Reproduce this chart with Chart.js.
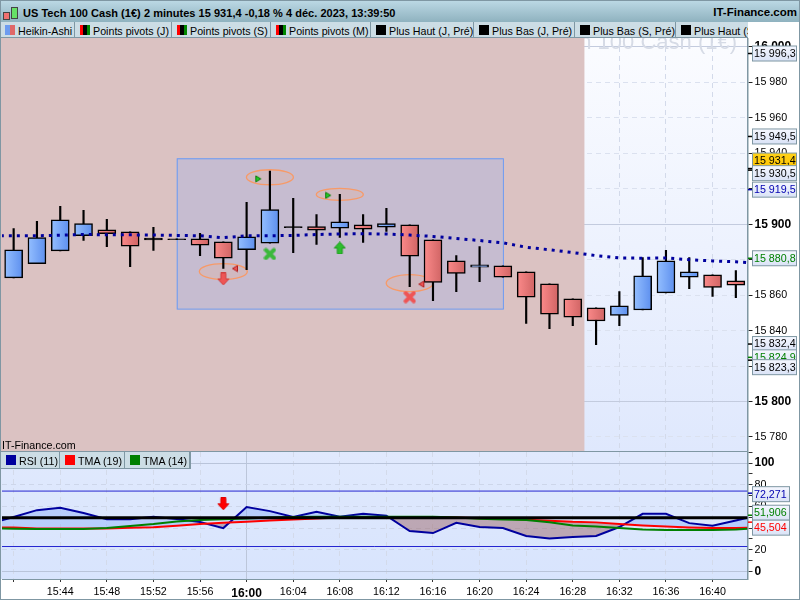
<!DOCTYPE html>
<html>
<head>
<meta charset="utf-8">
<title>US Tech 100 Cash</title>
<script src="https://cdn.jsdelivr.net/npm/chart.js@4"></script>
<style>
html, body { margin: 0; padding: 0; background: #fff; overflow: hidden; }
body { width: 800px; height: 600px; position: relative; font-family: "Liberation Sans", Arial, sans-serif; color: #000; }
canvas { position: absolute; left: 0; display: block; }
#priceChart { top: 38px; }
#rsiChart { top: 452px; }
#header { position: absolute; left: 0; top: 0; width: 800px; height: 22px; box-sizing: border-box; border-top: 1px solid #7f97a3;
    background: linear-gradient(#bbd8e4, #8fb2bf); font-weight: bold; font-size: 11px; }
#title { position: absolute; left: 23px; top: 6px; white-space: nowrap; letter-spacing: .03px; }
#site { position: absolute; right: 3px; top: 5px; font-size: 11.5px; }
.ico { position: absolute; border: 1px solid #444; }
.bar { position: absolute; display: flex; background: #ccdde5; overflow: hidden; font-size: 10.7px; white-space: nowrap; box-sizing: border-box; }
#tabs { left: 0; top: 22px; width: 748px; height: 16px; border-bottom: 1px solid #7f97a3; }
#rsiTabs { left: 1px; top: 452px; width: 190px; height: 17px; border: 1px solid #7f97a3; border-left: 0; border-top: 0; z-index: 3; }
.tab { position: relative; flex: none; height: 100%; box-sizing: border-box; border-right: 1px solid #7f97a3; }
.tab i { position: absolute; left: 5px; top: 3px; width: 10px; height: 10px; }
.tab span { position: absolute; left: 18px; top: 3px; }
#credit { position: absolute; left: 2px; top: 439px; font-size: 10.7px; z-index: 3; }
#frame { position: absolute; left: 0; top: 0; width: 800px; height: 600px; box-sizing: border-box; border: 1px solid #7f97a3; border-top: 0; z-index: 4; pointer-events: none; }
#split { position: absolute; left: 0; top: 451px; width: 748px; height: 1px; background: #7f97a3; z-index: 2; }
</style>
</head>
<body>
<div id="header">
    <div class="ico" style="left:3px;top:11px;width:5px;height:6px;background:#f07070"></div>
    <div class="ico" style="left:11px;top:6px;width:5px;height:10px;background:#66e066"></div>
    <div id="title">US Tech 100 Cash (1€) 2 minutes 15 931,4 -0,18 % 4 déc. 2023, 13:39:50</div>
    <div id="site">IT-Finance.com</div>
</div>
<div id="tabs" class="bar"></div>
<canvas id="priceChart" width="800" height="414"></canvas>
<div id="split"></div>
<div id="credit">IT-Finance.com</div>
<div id="rsiTabs" class="bar"></div>
<canvas id="rsiChart" width="800" height="148"></canvas>
<div id="frame"></div>
<script>
const times = ['15:40','15:42','15:44','15:46','15:48','15:50','15:52','15:54','15:56','15:58','16:00','16:02','16:04','16:06','16:08','16:10',
    '16:12','16:14','16:16','16:18','16:20','16:22','16:24','16:26','16:28','16:30','16:32','16:34','16:36','16:38','16:40','16:42'];

const opens = [15869.7,15877.7,15885,15893.5,15896.9,15895.7,15892.2,15891.8,15891.8,15890.1,15885.6,15889.3,15898.6,15898.6,15897.8,15899.7,
    15898.3,15899.7,15891.2,15879.3,15875.7,15876.5,15873.1,15866.3,15857.9,15852.8,15848.6,15851.6,15861.3,15870.1,15871.4,15868];
const closes = [15885.6,15892.4,15902.5,15900.3,15894.6,15887.6,15891.1,15891.3,15888.2,15880.8,15892.9,15908.2,15898,15896.7,15901.4,15897.2,
    15900.3,15882,15867.2,15872.3,15877.1,15870.1,15858.8,15849.2,15847.5,15845.4,15853.9,15870.9,15879.3,15873.1,15864.4,15865.6];
const highs = [15897.6,15901.6,15910.1,15907.8,15902.7,15895.7,15898.2,15891.8,15894.8,15890.1,15912.3,15930,15914.6,15905.5,15916.8,15905.5,
    15908.9,15899.7,15891.2,15882.3,15887.4,15876.5,15873.1,15866.3,15857.9,15852.8,15862,15881.2,15885.2,15881.2,15871.4,15873.9];
const lows = [15869.7,15877.7,15885,15890.8,15887.4,15876.1,15885.2,15891.3,15882.3,15875,15874.4,15889.3,15884,15888.6,15892.5,15889.7,
    15895.9,15864.8,15856.9,15862,15867.6,15870.1,15844.1,15841.1,15842.8,15832,15842.8,15851.6,15861.3,15863.7,15859.2,15858.6];

// the lines run past the first and last candle up to the pane edges
const lineSlots = [-0.55,0,1,2,3,4,5,6,7,8,9,10,11,12,13,14,15,16,17,18,19,20,21,22,23,24,25,26,27,28,29,30,31,31.5];
const averageValues = [15893.5,15893.5,15893.5,15893.8,15894.2,15894,15894,15893.9,15893.7,15893.5,15892.4,15893.5,15893.5,15893.7,15894.2,15894.5,15894.6,
    15894.5,15893.9,15893.1,15892,15890.8,15889.5,15887,15885.6,15884,15882.3,15881,15880.8,15881,15880,15879.3,15878.8,15878.4];
const rsiValues = [47,50.2,56.6,58.8,53.9,48.3,48.3,50.5,48.3,45.6,40,59.4,55.7,50.2,55.1,50.5,53.2,51.4,37.3,35.4,44.9,41,40,32.7,30.4,31.7,32.7,41,53.2,53.2,44.6,42.2,47,49.5];
const tma19Values = [40.6,40.6,39.7,39.7,39.7,39.7,40.3,40.9,42.2,43.7,44.9,45.8,47.1,48,48.9,49.8,50.2,50.2,50.2,50.2,49.8,49.2,48.9,47.7,46.8,45.8,45.3,43.7,42.5,41.5,40.6,40,40,40.3];
const tma14Values = [39.7,39.4,39.1,39.1,39.1,40,41.9,43.7,46.2,47.4,48.3,48.9,49.8,50.2,50.5,50.5,50.5,50.5,50.5,50.5,49.8,48.6,48,47.4,45.5,42.5,41.5,40,38.8,38.2,38.2,38.2,38.8,39.4];
const rsiLevels = [74.2, 49.5, 23];

const tabNames = ['Heikin-Ashi','Points pivots (J)','Points pivots (S)','Points pivots (M)','Plus Haut (J, Pré)','Plus Bas (J, Pré)','Plus Bas (S, Pré)','Plus Haut (S, Pré)'];
const rsiTabNames = ['RSI (11)','TMA (19)','TMA (14)'];

const priceLabels = [15996.3,15949.5,15931.4,15930.5,15919.5,15880.8,15832.4,15824.9,15823.3];
const rsiLabels = [72.271,51.906,45.504];

const selectionSlots = [7, 21];
const selectionPrices = [15937.2, 15852.4];
const pivotSlots = [11, 14, 9, 17];
const pivotPrices = [15926.5, 15916.8, 15873.3, 15866.8];
const buySlots = [10.5, 13.5];
const buyPrices = [15925.6, 15916.3];
const sellSlots = [9.5, 17.5];
const sellPrices = [15875, 15866.2];

// styles for the above, kept apart from the values
const tabWidths = [75, 97, 99, 100, 103, 101, 101, 80];
const tabSwatches = ['linear-gradient(90deg,#6d9cf0 50%,#e06868 50%)', 'pivot', 'pivot', 'pivot', '#000', '#000', '#000', '#000'];
const rsiTabWidths = [59, 65, 65];
const rsiTabSwatches = ['#00009e', '#ff0000', '#008000'];
const priceBadgeNudge = [0, 0, -8, 3, 0, 0, 0, 0, 7];
const priceBadgeColors = ['#000','#000','#000','#000','#0000b0','#008000','#000','#008000','#000'];
const rsiBadgeNudge = [1, -2.5, 5.5];
const rsiBadgeColors = ['#0000b0','#008000','#ff0000'];
const pivotRadii = [[23.5, 7.5], [23.5, 6], [24, 8], [23.5, 8.5]];

function fillTabs(id, names, widths, swatches) {
    const bar = document.getElementById(id);
    names.forEach(function (name, i) {
        const tab = document.createElement('div');
        tab.className = 'tab';
        tab.style.width = widths[i] + 'px';
        const swatch = document.createElement('i');
        swatch.style.background = swatches[i] === 'pivot'
            ? 'linear-gradient(90deg,#f00 33%,#000 33%,#000 66%,#080 66%)' : swatches[i];
        const label = document.createElement('span');
        label.textContent = name;
        tab.appendChild(swatch);
        tab.appendChild(label);
        bar.appendChild(tab);
    });
}
fillTabs('tabs', tabNames, tabWidths, tabSwatches);
fillTabs('rsiTabs', rsiTabNames, rsiTabWidths, rsiTabSwatches);

function icon(size, draw) {
    const c = document.createElement('canvas');
    c.width = size;
    c.height = size;
    draw(c.getContext('2d'));
    return c;
}
function polyIcon(size, pts, fill, stroke) {
    return icon(size, function (g) {
        g.beginPath();
        pts.forEach(function (p, i) { i ? g.lineTo(p[0], p[1]) : g.moveTo(p[0], p[1]); });
        g.closePath();
        g.fillStyle = fill;
        g.fill();
        g.strokeStyle = stroke;
        g.lineWidth = 1;
        g.stroke();
    });
}
function crossIcon(color) {
    return icon(13, function (g) {
        g.strokeStyle = color;
        g.lineWidth = 4;
        g.lineCap = 'round';
        g.beginPath();
        g.moveTo(2.5, 2.5); g.lineTo(10.5, 10.5);
        g.moveTo(10.5, 2.5); g.lineTo(2.5, 10.5);
        g.stroke();
    });
}
const upArrow = polyIcon(13, [[6.5,0.5],[12,6.5],[9,6.5],[9,12.5],[4,12.5],[4,6.5],[1,6.5]], '#2ebd2e', '#1c9c1c');
const downArrow = polyIcon(13, [[4,0.5],[9,0.5],[9,6.5],[12,6.5],[6.5,12.5],[1,6.5],[4,6.5]], '#ee5555', '#d04040');
const buyMark = polyIcon(8, [[1.5,1],[6.5,4],[1.5,7]], '#22cc22', '#0a7a0a');
const sellMark = polyIcon(8, [[6.5,1],[1.5,4],[6.5,7]], '#ee5555', '#b02020');

function fmtPrice(v) {
    const s = v.toFixed(1).replace('.', ',');
    return s.slice(0, 2) + ' ' + s.slice(2);
}
function fmtTick(v) {
    const s = String(Math.round(v));
    return s.slice(0, 2) + ' ' + s.slice(2);
}

// value boxes on the right axis
function drawBadges(chart, values, nudges, colors, width, format) {
    const g = chart.ctx;
    const y = chart.scales.y;
    g.save();
    values.forEach(function (v, i) {
        const py = y.getPixelForValue(v);
        const cy = py + nudges[i];
        const yellow = format === fmtPrice && v === 15931.4;
        g.strokeStyle = colors[i];
        g.lineWidth = 1.5;
        g.beginPath();
        g.moveTo(748, py);
        g.lineTo(752, py);
        g.stroke();
        const grad = g.createLinearGradient(0, cy - 8, 0, cy + 8);
        grad.addColorStop(0, yellow ? '#ffd21a' : '#f6f8ff');
        grad.addColorStop(1, yellow ? '#ffc400' : '#d9e2f6');
        g.fillStyle = grad;
        g.fillRect(752.5, cy - 7.5, width, 15);
        g.strokeStyle = '#7f97a3';
        g.lineWidth = 1;
        g.strokeRect(752.5, cy - 7.5, width, 15);
        g.fillStyle = colors[i];
        g.font = '10.7px "Liberation Sans"';
        g.textAlign = 'left';
        g.textBaseline = 'middle';
        g.fillText(format(v), 754, cy + 0.5);
    });
    g.restore();
}

const priceBackdrop = {
    id: 'priceBackdrop',
    beforeDraw: function (chart) {
        const a = chart.chartArea;
        const g = chart.ctx;
        const grad = g.createLinearGradient(0, a.top, 0, a.bottom);
        grad.addColorStop(0, '#fbfcff');
        grad.addColorStop(1, '#dfe8fd');
        g.fillStyle = grad;
        g.fillRect(a.left, a.top, a.right - a.left, a.bottom - a.top);
    },
    beforeDatasetsDraw: function (chart) {
        const a = chart.chartArea;
        const g = chart.ctx;
        const x = chart.scales.x;
        const y = chart.scales.y;
        g.save();
        // watermark sits behind the pink session band
        g.font = '22px "Liberation Sans"';
        g.fillStyle = '#d6dbe6';
        g.textAlign = 'right';
        g.textBaseline = 'alphabetic';
        g.fillText('US Tech 100 Cash (1€)', 737, 11);
        g.fillStyle = '#dbc2c2';
        g.fillRect(0, a.top, x.getPixelForValue(24.5), a.bottom - a.top);

        const sx = x.getPixelForValue(selectionSlots[0]);
        const ex = x.getPixelForValue(selectionSlots[1]);
        const sy = y.getPixelForValue(selectionPrices[0]);
        const ey = y.getPixelForValue(selectionPrices[1]);
        g.fillStyle = 'rgba(170,182,228,0.42)';
        g.fillRect(sx, sy, ex - sx, ey - sy);
        g.strokeStyle = '#6a9af5';
        g.lineWidth = 1;
        g.strokeRect(sx + 0.5, sy + 0.5, ex - sx, ey - sy);

        pivotSlots.forEach(function (slot, i) {
            g.beginPath();
            g.ellipse(x.getPixelForValue(slot), y.getPixelForValue(pivotPrices[i]), pivotRadii[i][0], pivotRadii[i][1], 0, 0, Math.PI * 2);
            g.fillStyle = 'rgba(255,170,120,0.18)';
            g.fill();
            g.strokeStyle = '#f79a68';
            g.lineWidth = 1.3;
            g.stroke();
        });
        g.restore();
    },
    afterDraw: function (chart) {
        drawBadges(chart, priceLabels, priceBadgeNudge, priceBadgeColors, 44, fmtPrice);
    }
};

const rsiBackdrop = {
    id: 'rsiBackdrop',
    beforeDraw: function (chart) {
        const a = chart.chartArea;
        const g = chart.ctx;
        const grad = g.createLinearGradient(0, a.top, 0, a.bottom);
        grad.addColorStop(0, '#e0e9fd');
        grad.addColorStop(1, '#d8e4fd');
        g.fillStyle = grad;
        g.fillRect(a.left - 2, a.top, a.right - a.left + 2, a.bottom - a.top);
    },
    afterDraw: function (chart) {
        drawBadges(chart, rsiLabels, rsiBadgeNudge, rsiBadgeColors, 37, function (v) { return v.toFixed(3).replace('.', ','); });
    }
};

function bodyFill(ctx) {
    const i = ctx.dataIndex;
    const chart = ctx.chart;
    if (i === undefined) return '#888';
    if (Math.abs(opens[i] - closes[i]) < 1.2) return '#000';
    const cx = chart.scales.x.getPixelForValue(i);
    if (!isFinite(cx)) return '#888';
    const grad = chart.ctx.createLinearGradient(cx - 9, 0, cx + 9, 0);
    if (closes[i] > opens[i]) {
        grad.addColorStop(0, '#94bfff');
        grad.addColorStop(1, '#5d8fee');
    } else {
        grad.addColorStop(0, '#fb8a8a');
        grad.addColorStop(1, '#d06464');
    }
    return grad;
}

function xpoints(slots, values) {
    return slots.map(function (s, i) { return { x: s, y: values[i] }; });
}
function markerSet(slots, values, style) {
    return { type: 'line', showLine: false, data: xpoints(slots, values), pointStyle: style, pointRadius: 6, order: 0 };
}

function evenTicks(axis) {
    axis.ticks = times.map(function (t, i) { return { value: i }; }).filter(function (t) { return t.value % 2 === 0; });
}
function gridColor(ctx) {
    return ctx.tick && ctx.tick.value === 10 ? '#bcc6da' : '#d3daea';
}
function gridDash(ctx) {
    return ctx.tick && ctx.tick.value === 10 ? [] : [5, 4];
}
// stops tick labels from shrinking the plot area
function noOverflow(axis) {
    axis.paddingLeft = 0;
    axis.paddingRight = 0;
    axis.paddingTop = 0;
    axis.paddingBottom = 0;
}

new Chart(document.getElementById('priceChart'), {
    type: 'bar',
    data: {
        datasets: [
            markerSet(buySlots, buyPrices, buyMark),
            markerSet(sellSlots, sellPrices, sellMark),
            markerSet([11], [15883.2], crossIcon('#3cb83c')),
            markerSet([17], [15858.9], crossIcon('#ee5555')),
            markerSet([9], [15869.1], downArrow),
            markerSet([14], [15886.6], upArrow),
            {
                type: 'line',
                data: xpoints(lineSlots, averageValues),
                borderColor: '#00009e',
                borderWidth: 3,
                borderDash: [3, 5],
                pointRadius: 0,
                order: 1
            },
            {
                data: times.map(function (t, i) { return { x: i, y: [opens[i], closes[i]] }; }),
                backgroundColor: bodyFill,
                borderColor: '#000',
                borderWidth: 1.5,
                borderSkipped: false,
                barThickness: 18,
                grouped: false,
                order: 2
            },
            {
                data: times.map(function (t, i) { return { x: i, y: [lows[i], highs[i]] }; }),
                backgroundColor: '#000',
                barThickness: 1.5,
                grouped: false,
                order: 3
            }
        ]
    },
    options: {
        responsive: false,
        animation: false,
        events: [],
        layout: { autoPadding: false, padding: { left: 2, top: 0, bottom: 0, right: 0 } },
        plugins: { legend: { display: false }, tooltip: { enabled: false } },
        scales: {
            x: {
                type: 'linear',
                offset: false,
                min: -0.5,
                max: 31.5,
                afterBuildTicks: evenTicks,
                afterFit: function (axis) { axis.height = 0; noOverflow(axis); },
                ticks: { display: false, autoSkip: false },
                grid: { offset: false, color: gridColor, drawTicks: false },
                border: { display: false, dash: gridDash }
            },
            y: {
                position: 'right',
                min: 15771.5,
                max: 16005.05,
                afterFit: function (axis) { axis.width = 52.5; noOverflow(axis); },
                ticks: {
                    stepSize: 20,
                    includeBounds: false,
                    autoSkip: false,
                    padding: 2,
                    color: '#000',
                    callback: function (v) { return fmtTick(v); },
                    font: function (ctx) {
                        const major = ctx.tick && ctx.tick.value % 100 === 0;
                        return { family: '"Liberation Sans"', size: major ? 12 : 10.7, weight: major ? 'bold' : 'normal' };
                    }
                },
                grid: {
                    tickLength: 5,
                    tickColor: '#222',
                    color: function (ctx) { return ctx.tick && ctx.tick.value % 100 === 0 ? '#c3cbde' : '#dbe1ef'; }
                },
                border: {
                    color: '#7f97a3',
                    width: 1.5,
                    dash: function (ctx) { return ctx.tick && ctx.tick.value % 100 === 0 ? [] : [5, 4]; }
                }
            }
        }
    },
    plugins: [priceBackdrop]
});

new Chart(document.getElementById('rsiChart'), {
    type: 'line',
    data: {
        datasets: [
            {
                data: xpoints(lineSlots, rsiValues),
                borderColor: '#00009e',
                borderWidth: 2,
                pointRadius: 0,
                fill: { target: 1, above: 'rgba(130,170,250,0.4)', below: 'rgba(150,90,90,0.45)' },
                order: 3
            },
            {
                data: xpoints(lineSlots, tma19Values),
                borderColor: '#ff0000',
                borderWidth: 2,
                pointRadius: 0,
                order: 2
            },
            {
                data: xpoints(lineSlots, tma14Values),
                borderColor: '#008000',
                borderWidth: 2,
                pointRadius: 0,
                order: 1
            },
            {
                data: xpoints([-0.55, 31.5], [rsiLevels[0], rsiLevels[0]]),
                borderColor: '#2525d0',
                borderWidth: 1,
                pointRadius: 0,
                order: 4
            },
            {
                data: xpoints([-0.55, 31.5], [rsiLevels[2], rsiLevels[2]]),
                borderColor: '#2525d0',
                borderWidth: 1,
                pointRadius: 0,
                order: 4
            },
            {
                data: xpoints([-0.55, 31.5], [rsiLevels[1], rsiLevels[1]]),
                borderColor: '#000',
                borderWidth: 3,
                pointRadius: 0,
                order: 0
            },
            {
                data: xpoints([9], [62.5]),
                showLine: false,
                pointStyle: polyIcon(13, [[4,0.5],[9,0.5],[9,6.5],[12,6.5],[6.5,12.5],[1,6.5],[4,6.5]], '#ff0000', '#e00000'),
                order: 0
            }
        ]
    },
    options: {
        responsive: false,
        animation: false,
        events: [],
        layout: { autoPadding: false, padding: { left: 2, top: 0, bottom: 0, right: 0 } },
        plugins: { legend: { display: false }, tooltip: { enabled: false } },
        scales: {
            x: {
                type: 'linear',
                min: -0.5,
                max: 31.5,
                afterBuildTicks: evenTicks,
                afterFit: function (axis) { axis.height = 21; noOverflow(axis); },
                ticks: {
                    autoSkip: false,
                    maxRotation: 0,
                    padding: 4,
                    color: '#000',
                    callback: function (v) { return v === 0 ? '' : times[v]; },
                    font: function (ctx) {
                        const major = ctx.tick && ctx.tick.value === 10;
                        return { family: '"Liberation Sans"', size: major ? 12 : 10.7, weight: major ? 'bold' : 'normal' };
                    }
                },
                grid: { color: gridColor, tickLength: 3, tickColor: '#333' },
                border: { color: '#7f97a3', width: 1, dash: gridDash }
            },
            y: {
                position: 'right',
                min: -7,
                max: 110.3,
                afterFit: function (axis) { axis.width = 52.5; noOverflow(axis); },
                ticks: {
                    stepSize: 10,
                    includeBounds: false,
                    autoSkip: false,
                    padding: 2,
                    color: '#000',
                    callback: function (v) { return v % 20 === 0 ? String(v) : ''; },
                    font: function (ctx) {
                        const major = ctx.tick && (ctx.tick.value === 0 || ctx.tick.value === 100);
                        return { family: '"Liberation Sans"', size: major ? 12 : 10.7, weight: major ? 'bold' : 'normal' };
                    }
                },
                grid: {
                    tickLength: 5,
                    tickColor: '#333',
                    color: function (ctx) {
                        if (!ctx.tick) return 'transparent';
                        if (ctx.tick.value % 20 !== 0) return 'transparent';
                        return ctx.tick.value % 100 === 0 ? '#b9c4da' : '#cdd6ea';
                    }
                },
                border: {
                    color: '#7f97a3',
                    width: 1.5,
                    dash: function (ctx) { return ctx.tick && ctx.tick.value % 100 === 0 ? [] : [5, 4]; }
                }
            }
        }
    },
    plugins: [rsiBackdrop]
});
</script>
</body>
</html>
